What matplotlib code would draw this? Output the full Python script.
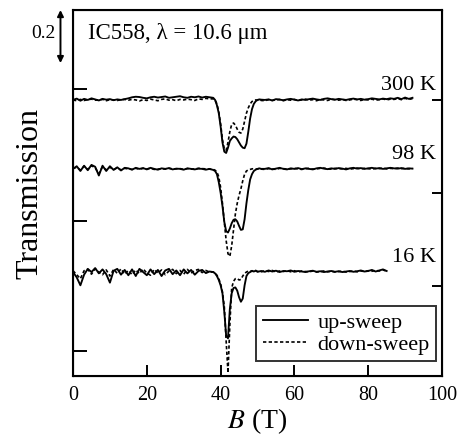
import matplotlib
matplotlib.use("Agg")
import numpy as np
import matplotlib.pyplot as plt

plt.rcParams['font.family'] = ['Liberation Serif', 'DejaVu Serif']
plt.rcParams['mathtext.fontset'] = 'stix'

# ---- data: field B (T) and transmission change relative to each baseline ----
B_HI = ([0, 1, 2, 3, 4, 5, 6, 7, 8, 9, 10, 11, 12, 13, 14, 15, 16, 17, 18, 19,
         20, 21, 22, 23, 24, 25, 26, 27, 28, 29, 30, 31, 32, 33, 34, 35, 36, 37]
        + [38, 38.5, 39, 39.5, 40, 40.5, 41, 41.5, 42, 42.5, 43, 43.5, 44, 44.5,
           45, 45.5, 46, 46.5, 47, 47.5, 48, 48.5, 49, 49.5, 50, 50.5, 51]
        + [52, 53, 54, 55, 56, 57, 58, 59, 60, 61, 62, 63, 64, 65, 66, 67, 68, 69,
           70, 71, 72, 73, 74, 75, 76, 77, 78, 79, 80, 81, 82, 83, 84, 85, 86, 87,
           88, 89, 90, 91, 92])

B_LO = ([0, 1, 2, 3, 4, 5, 6, 7, 8, 9, 10, 11, 12, 13, 14, 15, 16, 17, 18, 19,
         20, 21, 22, 23, 24, 25, 26, 27, 28, 29, 30, 31, 32, 33, 34, 35, 36, 37]
        + [38, 38.5, 39, 39.5, 40, 40.5, 41, 41.5, 42, 42.5, 43, 43.5, 44, 44.5,
           45, 45.5, 46, 46.5, 47, 47.5, 48, 48.5, 49, 49.5, 50]
        + [51, 52, 53, 54, 55, 56, 57, 58, 59, 60, 61, 62, 63, 64, 65, 66, 67, 68,
           69, 70, 71, 72, 73, 74, 75, 76, 77, 78, 79, 80, 81, 82, 83, 84, 85])

up_300 = ([0.000, 0.005, -0.003, 0.004, 0.000, 0.006, 0.002, -0.002, 0.004, 0.001,
           0.003, -0.001, 0.002, 0.000, 0.003, 0.006, 0.010, 0.012, 0.011, 0.008,
           0.006, 0.010, 0.012, 0.009, 0.011, 0.013, 0.008, 0.010, 0.012, 0.014,
           0.010, 0.008, 0.012, 0.010, 0.013, 0.009, 0.012, 0.010]
          + [0.008, 0.000, -0.020, -0.050, -0.100, -0.160, -0.195, -0.200, -0.180,
             -0.155, -0.145, -0.138, -0.140, -0.148, -0.160, -0.172, -0.180, -0.182,
             -0.165, -0.120, -0.070, -0.035, -0.015, -0.005, 0.000, 0.002, 0.001]
          + [0.000, 0.002, -0.002, 0.003, 0.001, -0.001, 0.002, 0.004, 0.001, -0.002,
             0.002, 0.000, 0.003, 0.005, 0.002, 0.000, 0.004, 0.006, 0.003, 0.001,
             0.004, 0.002, 0.000, 0.003, 0.005, 0.002, 0.004, 0.001, 0.003, 0.006,
             0.004, 0.002, 0.005, 0.003, 0.006, 0.004, 0.008, 0.003, 0.009, 0.004,
             0.008])
down_300 = ([0.000, -0.003, 0.002, -0.002, 0.001, 0.003, -0.001, 0.000, 0.002, -0.003,
             0.001, 0.000, -0.002, 0.001, 0.002, -0.001, 0.002, 0.000, -0.004, 0.001,
             -0.002, 0.003, 0.000, -0.003, 0.002, 0.004, -0.001, 0.001, -0.003, 0.002,
             0.000, 0.003, 0.001, -0.002, 0.004, 0.002, 0.006, 0.004]
            + [0.004, 0.000, -0.015, -0.045, -0.090, -0.150, -0.185, -0.190, -0.160,
               -0.120, -0.092, -0.087, -0.095, -0.110, -0.122, -0.125, -0.110, -0.080,
               -0.050, -0.030, -0.015, -0.006, -0.002, 0.000, -0.001, 0.001, -0.002]
            + [-0.003, 0.001, -0.002, 0.000, 0.002, -0.003, 0.001, -0.001, 0.002, -0.002,
               0.000, 0.003, -0.001, 0.001, -0.003, 0.002, 0.000, -0.002, 0.003, 0.001,
               -0.001, 0.002, -0.002, 0.000, 0.003, 0.001, -0.002, 0.002, 0.000, 0.003,
               -0.001, 0.001, 0.004, 0.000, 0.003, 0.002, 0.005, 0.001, 0.006, 0.002,
               0.005])

up_98 = ([0.000, 0.010, -0.008, 0.012, -0.005, 0.015, 0.008, -0.025, 0.012, -0.008,
          0.010, -0.004, 0.006, -0.006, 0.004, 0.002, -0.003, 0.004, 0.000, 0.003,
          -0.002, 0.004, 0.000, -0.003, 0.002, 0.000, 0.003, -0.002, 0.001, 0.000,
          -0.003, 0.002, 0.000, -0.002, 0.001, 0.000, -0.003, 0.000]
         + [-0.004, -0.008, -0.020, -0.050, -0.090, -0.140, -0.200, -0.235, -0.240,
            -0.225, -0.205, -0.192, -0.190, -0.198, -0.215, -0.230, -0.228, -0.190,
            -0.130, -0.080, -0.040, -0.020, -0.008, -0.003, 0.000, 0.002, 0.000]
         + [0.000, 0.003, -0.002, 0.001, 0.004, 0.000, -0.002, 0.002, 0.000, 0.003,
            -0.001, 0.002, 0.000, -0.002, 0.002, 0.004, 0.001, -0.001, 0.002, 0.000,
            0.003, 0.001, -0.002, 0.002, 0.004, 0.001, 0.003, 0.000, 0.002, 0.004,
            0.001, 0.003, 0.000, 0.002, 0.004, 0.002, 0.001, 0.003, 0.000, 0.002,
            0.001])
down_98 = ([0.002, 0.006, -0.004, 0.010, -0.002, 0.012, 0.004, -0.018, 0.008, -0.004,
            0.006, -0.002, 0.004, -0.004, 0.002, 0.000, -0.002, 0.002, -0.001, 0.002,
            0.000, 0.002, -0.002, -0.001, 0.001, -0.001, 0.002, 0.000, 0.000, 0.001,
            -0.002, 0.001, -0.001, 0.000, 0.002, 0.001, 0.000, -0.001]
           + [-0.002, -0.005, -0.012, -0.030, -0.070, -0.130, -0.200, -0.270, -0.320,
              -0.330, -0.290, -0.230, -0.170, -0.130, -0.100, -0.075, -0.045, -0.020,
              -0.008, -0.004, -0.002, 0.000, 0.001, -0.001, 0.000, 0.001, -0.001]
           + [-0.002, 0.001, 0.000, -0.002, 0.002, 0.001, -0.001, 0.000, 0.002, 0.000,
              -0.002, 0.001, 0.002, -0.001, 0.000, 0.002, 0.003, 0.000, -0.001, 0.002,
              0.001, 0.000, 0.002, -0.001, 0.001, 0.003, 0.000, 0.002, 0.001, -0.001,
              0.002, 0.001, 0.003, 0.000, 0.002, 0.001, 0.003, 0.001, 0.002, 0.000,
              0.002])

up_16 = ([0.000, -0.020, -0.050, -0.010, 0.012, 0.000, 0.015, -0.005, 0.010, -0.008,
          -0.040, 0.005, 0.012, -0.010, 0.008, -0.012, 0.010, -0.015, 0.012, 0.000,
          -0.012, 0.010, -0.008, 0.008, -0.015, 0.006, 0.012, -0.008, 0.006, -0.012,
          0.010, -0.005, 0.008, -0.010, 0.004, 0.008, -0.004, 0.002]
         + [0.000, -0.005, -0.015, -0.030, -0.050, -0.080, -0.150, -0.240, -0.250,
            -0.140, -0.080, -0.060, -0.058, -0.070, -0.095, -0.112, -0.100, -0.050,
            -0.015, -0.004, 0.000, 0.004, 0.002, 0.005, 0.001]
         + [0.004, 0.001, 0.006, 0.002, 0.005, 0.000, 0.004, 0.003, 0.006, 0.001,
            0.004, 0.002, 0.000, 0.003, 0.005, 0.001, 0.003, 0.000, 0.002, 0.004,
            0.001, 0.003, 0.000, 0.002, 0.004, 0.001, 0.003, 0.006, 0.002, 0.004,
            0.008, 0.002, 0.006, 0.010, 0.004])
down_16 = ([0.005, -0.010, -0.025, 0.005, 0.010, -0.008, 0.012, 0.000, -0.010, 0.008,
            -0.015, 0.010, -0.005, 0.012, -0.008, 0.006, -0.010, 0.008, -0.006, 0.012,
            -0.004, -0.012, 0.010, -0.004, 0.008, -0.010, 0.004, 0.010, -0.006, 0.006,
            -0.008, 0.010, -0.004, 0.006, 0.010, -0.002, 0.006, 0.000]
           + [0.000, -0.004, -0.012, -0.025, -0.045, -0.075, -0.130, -0.260, -0.380,
              -0.200, -0.060, -0.035, -0.025, -0.024, -0.030, -0.028, -0.015, -0.005,
              0.000, 0.004, 0.002, 0.005, 0.003, 0.006, 0.002]
           + [0.001, 0.005, 0.002, 0.006, 0.000, 0.004, 0.002, 0.005, 0.001, 0.005,
              0.000, 0.004, 0.002, 0.001, 0.004, 0.000, 0.002, 0.004, 0.001, 0.003,
              0.000, 0.002, 0.003, 0.000, 0.002, 0.004, 0.001, 0.004, 0.002, 0.005,
              0.003, 0.006, 0.004, 0.008, 0.003])

temps = ['300 K', '98 K', '16 K']
offsets = [1.041, 0.781, 0.392]
grids = [B_HI, B_HI, B_LO]
ups = [up_300, up_98, up_16]
downs = [down_300, down_98, down_16]

# ---- plot ----
fig = plt.figure(figsize=(4.66, 4.36), dpi=100)
ax = fig.add_axes([0.1567, 0.1376, 0.7918, 0.8394])

for T, off, b, u, d in zip(temps, offsets, grids, ups, downs):
    b = np.array(b)
    ax.plot(b, np.array(d) + off, color='k', lw=1.2, ls=(0, (2.0, 1.4)),
            label='down-sweep' if T == '300 K' else None)
    ax.plot(b, np.array(u) + off, color='k', lw=1.35,
            label='up-sweep' if T == '300 K' else None)
    ax.text(98.5, off + 0.056, T, ha='right', va='center', fontsize=16)

ax.set_xlim(0, 100)
ax.set_ylim(0, 1.38)
ax.set_xticks([0, 20, 40, 60, 80, 100])
ax.set_yticks([0.094, 0.584, 1.082])
ax.set_yticklabels([])
ax.tick_params(axis='x', direction='in', length=8, width=1.4, labelsize=14.5, pad=7)
ax.tick_params(axis='y', direction='in', length=10, width=1.4)
for s in ax.spines.values():
    s.set_linewidth(1.5)

ax2 = ax.twinx()
ax2.set_ylim(ax.get_ylim())
ax2.set_yticks([0.339, 0.690, 1.041])
ax2.set_yticklabels([])
ax2.tick_params(axis='y', direction='in', length=7, width=1.4)

ax.set_xlabel('$B$ (T)', fontsize=20, labelpad=1)
ax.set_ylabel('Transmission', fontsize=23, labelpad=17)

ax.text(4, 1.29, 'IC558, λ = 10.6 μm', fontsize=16.5, va='center', ha='left')

# 0.2 scale bar
ax.annotate('', xy=(-3.4, 1.18), xytext=(-3.4, 1.38), xycoords='data',
            arrowprops=dict(arrowstyle='<|-|>', color='k', lw=1.4,
                            mutation_scale=9, shrinkA=0, shrinkB=0),
            annotation_clip=False)
ax.text(-4.8, 1.29, '0.2', fontsize=14, ha='right', va='center', clip_on=False)

h, l = ax.get_legend_handles_labels()
leg = ax.legend(h[::-1], l[::-1], loc='lower right', bbox_to_anchor=(0.985, 0.04),
                fontsize=16, frameon=True, fancybox=False, handlelength=2.0,
                handletextpad=0.45, borderpad=0.3, labelspacing=0.05,
                borderaxespad=0)
leg.get_frame().set_edgecolor('k')
leg.get_frame().set_linewidth(1.4)

fig.savefig('out.png', dpi=100)
